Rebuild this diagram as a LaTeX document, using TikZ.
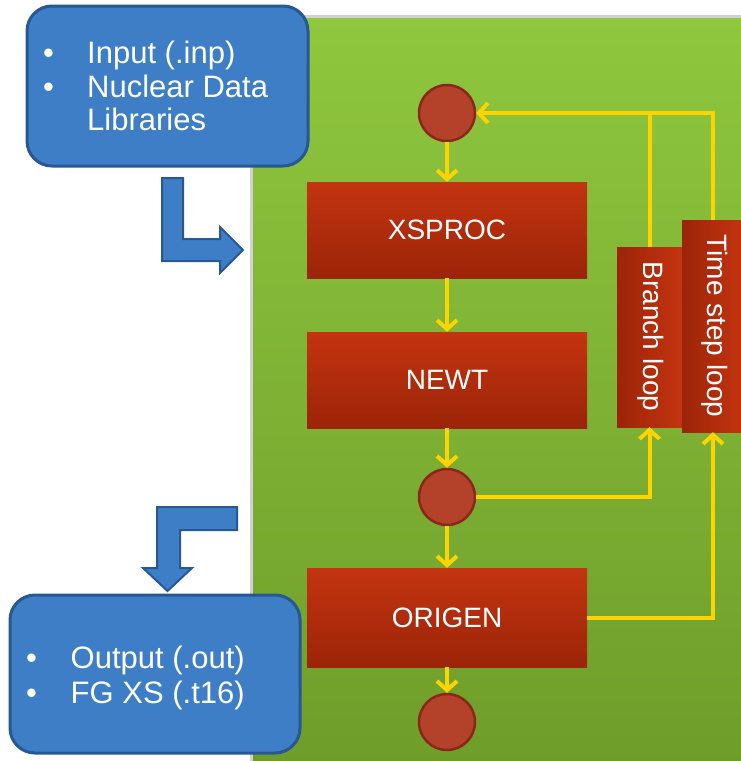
\documentclass[tikz,border=0pt]{standalone}
\usepackage{fontspec}
\setmainfont{Liberation Sans}
\usetikzlibrary{arrows.meta}
\definecolor{gtop}{RGB}{143,199,62}
\definecolor{gbot}{RGB}{110,156,42}
\definecolor{rtop}{RGB}{196,52,16}
\definecolor{rbot}{RGB}{156,36,8}
\definecolor{circfill}{RGB}{180,66,42}
\definecolor{circline}{RGB}{138,40,24}
\definecolor{bluefill}{RGB}{61,126,198}
\definecolor{blueline}{RGB}{40,88,148}
\definecolor{gold}{RGB}{252,212,0}
\begin{document}
\begin{tikzpicture}[x=1pt,y=-1pt,
  redbox/.style={rectangle, top color=rtop, bottom color=rbot, draw=none, text=white,
    font=\fontsize{28}{30}\selectfont, inner sep=0},
  loopbox/.style={rectangle, left color=rbot, right color=rtop, draw=none, inner sep=0},
  looplabel/.style={text=white, font=\fontsize{28}{30}\selectfont, rotate=-90, inner sep=0},
  junction/.style={circle, fill=circfill, draw=circline, line width=2.5pt, minimum size=56pt, inner sep=0},
  bluebox/.style={rectangle, rounded corners=25pt, fill=bluefill, draw=blueline, line width=3pt, inner sep=0},
  bluetext/.style={text=white, font=\fontsize{31}{31}\selectfont, inner sep=0, anchor=base west},
  bluearrow/.style={fill=bluefill, draw=blueline, line width=2pt, line join=miter},
  yline/.style={draw=gold, line width=4pt},
  yarrow/.style={yline, -{Straight Barb[length=9pt,width=20pt]}}
]
\useasboundingbox (0,0) rectangle (740,761);
% green panel with shadow
\fill[black!30, opacity=0.6] (250,15) rectangle (760,780);
\fill[top color=gtop, bottom color=gbot] (253,18) rectangle (760,780);

% blue boxes
\node[bluebox, minimum width=281pt, minimum height=160pt] (inbox) at (167.5,86) {};
\node[bluetext] (in1b) at (43,63) {•};
\node[bluetext] (in1) at (87,63) {Input (.inp)};
\node[bluetext] (in2b) at (43,97) {•};
\node[bluetext] (in2) at (87,97) {Nuclear Data};
\node[bluetext] (in3) at (87,130) {Libraries};

\node[bluebox, minimum width=290pt, minimum height=158pt] (outbox) at (155,674) {};
\node[bluetext] (out1b) at (26,668) {•};
\node[bluetext] (out1) at (70.5,668) {Output (.out)};
\node[bluetext] (out2b) at (26,703) {•};
\node[bluetext] (out2) at (70.5,703) {FG XS (.t16)};

% blue block arrows
\draw[bluearrow] (162,178) -- (183,178) -- (183,239) -- (220,239) -- (220,227) -- (243,250)
  -- (220,273) -- (220,261) -- (162,261) -- cycle;
\draw[bluearrow] (237,507) -- (237,530) -- (180,530) -- (180,568) -- (192,568) -- (167.5,591)
  -- (143,568) -- (157,568) -- (157,507) -- cycle;

% process boxes
\node[redbox, minimum width=280pt, minimum height=96pt] (xs) at (447,230) {XSPROC};
\node[redbox, minimum width=280pt, minimum height=96pt] (nw) at (447,380) {NEWT};
\node[redbox, minimum width=280pt, minimum height=99pt] (or) at (447,617.5) {ORIGEN};

% loop boxes
\node[loopbox, minimum width=65pt, minimum height=180pt] (br) at (649.5,337) {};
\node[looplabel] (brl) at (651,336.5) {Branch loop};
\node[loopbox, minimum width=62pt, minimum height=212pt] (ts) at (713,326) {};
\node[looplabel] (tsl) at (714.5,326) {Time step loop};

% junctions
\node[junction] (c1) at (447,113) {};
\node[junction] (c2) at (447,497) {};
\node[junction] (c3) at (447,722) {};

% connectors
\draw[yarrow] (c1.south) -- (xs.north);
\draw[yarrow] (xs.south) -- (nw.north);
\draw[yarrow] (nw.south) -- (c2.north);
\draw[yarrow] (c2.south) -- (or.north);
\draw[yarrow] (or.south) -- (c3.north);
\draw[yarrow] (c2.east) -| (br.south);
\draw[yarrow] (or.east) -| (ts.south);
\coordinate (jn) at (br.north |- c1.east);
\draw[yline] (ts.north) |- (jn);
\draw[yarrow] (br.north) |- (c1.east);
\end{tikzpicture}
\end{document}
